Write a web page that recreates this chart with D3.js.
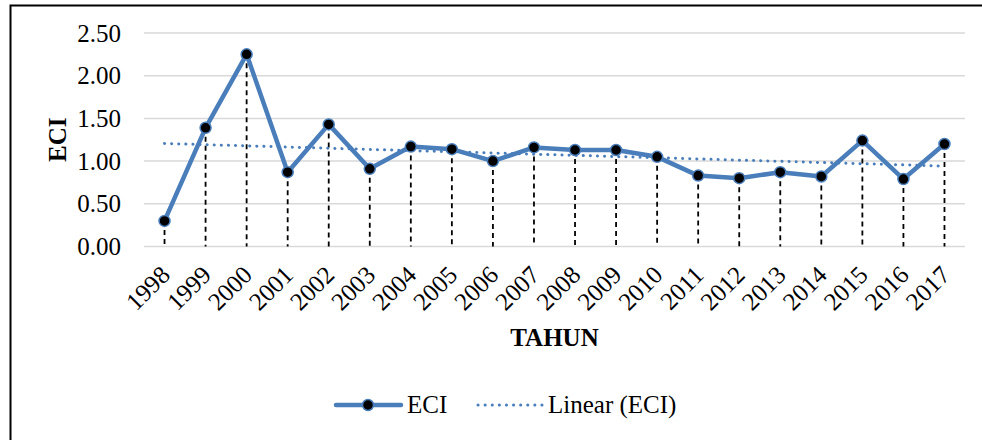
<!DOCTYPE html>
<html>
<head>
<meta charset="utf-8">
<script src="https://cdn.jsdelivr.net/npm/d3@7"></script>
<style>
  html, body { margin: 0; padding: 0; background: #fff; }
  svg { display: block; }
  text { font-family: "Liberation Serif", "Times New Roman", serif; fill: #000; }
</style>
</head>
<body>
<svg id="chart" width="982" height="440"></svg>
<script>
// ---- data ----
const years = ["1998","1999","2000","2001","2002","2003","2004","2005","2006","2007",
               "2008","2009","2010","2011","2012","2013","2014","2015","2016","2017"];
const eci = [0.30, 1.39, 2.25, 0.87, 1.43, 0.91, 1.17, 1.14, 1.00, 1.16,
             1.13, 1.13, 1.05, 0.83, 0.80, 0.87, 0.82, 1.24, 0.79, 1.20];
const yTicks = [0, 0.5, 1.0, 1.5, 2.0, 2.5];
const seriesName = "ECI";
const trendName = "Linear (ECI)";
const xTitle = "TAHUN";
const yTitle = "ECI";

// ---- layout ----
const plot = { left: 144, right: 965, top: 33, bottom: 246.5 };
const blue = "#4A7EBB";
const FS = "25px";
const FONT = "'Liberation Serif', 'Times New Roman', serif";

const svg = d3.select("#chart");

// outer border (extends past right/bottom edges as in reference)
svg.append("rect")
  .attr("x", 10.5).attr("y", 5.5)
  .attr("width", 1000).attr("height", 600)
  .attr("fill", "none").attr("stroke", "#000").attr("stroke-width", 2);

const x = d3.scaleBand().domain(years).range([plot.left, plot.right]);
const y = d3.scaleLinear().domain([0, 2.5]).range([plot.bottom, plot.top]);
const cx = d => x(d) + x.bandwidth() / 2;

// gridlines
svg.append("g")
  .selectAll("line").data(yTicks).join("line")
  .attr("x1", plot.left).attr("x2", plot.right)
  .attr("y1", d => y(d)).attr("y2", d => y(d))
  .attr("stroke", "#d9d9d9").attr("stroke-width", 1.5);

// y axis labels
const yAxis = d3.axisLeft(y).tickValues(yTicks).tickFormat(d3.format(".2f")).tickSize(0).tickPadding(23);
const gy = svg.append("g").attr("transform", `translate(${plot.left},0)`).call(yAxis);
gy.select(".domain").remove();
gy.selectAll("text")
  .style("font-family", FONT)
  .style("font-size", FS).attr("fill", "#000");

// x axis labels (rotated)
const xAxis = d3.axisBottom(x).tickSize(0).tickPadding(0);
const gx = svg.append("g").attr("transform", `translate(0,${plot.bottom})`).call(xAxis);
gx.select(".domain").remove();
gx.selectAll("text")
  .style("font-family", FONT)
  .style("font-size", FS).attr("fill", "#000")
  .attr("text-anchor", "end")
  .attr("dy", null)
  .attr("y", 0)
  .attr("transform", "translate(7,30) rotate(-45)");

// axis titles
svg.append("text")
  .attr("x", (plot.left + plot.right) / 2).attr("y", 346)
  .attr("text-anchor", "middle")
  .style("font-size", FS).style("font-weight", "bold")
  .text(xTitle);
svg.append("text")
  .attr("transform", `translate(66,${(plot.top + plot.bottom) / 2}) rotate(-90)`)
  .attr("text-anchor", "middle")
  .style("font-size", FS).style("font-weight", "bold")
  .text(yTitle);

// drop lines
svg.append("g")
  .selectAll("line").data(years).join("line")
  .attr("x1", d => cx(d)).attr("x2", d => cx(d))
  .attr("y1", (d, i) => y(eci[i]))
  .attr("y2", plot.bottom)
  .attr("stroke", "#000").attr("stroke-width", 1.8)
  .attr("stroke-dasharray", "5,4");

// linear trend (least squares)
const n = eci.length;
const xs = d3.range(1, n + 1);
const mx = d3.mean(xs), my = d3.mean(eci);
const slope = d3.sum(xs.map((v, i) => (v - mx) * (eci[i] - my))) / d3.sum(xs.map(v => (v - mx) ** 2));
const icpt = my - slope * mx;
const trend = xs.map(v => icpt + slope * v);

const line = d3.line().x((d, i) => cx(years[i])).y(d => y(d));

svg.append("path")
  .datum(eci)
  .attr("d", line)
  .attr("fill", "none").attr("stroke", blue).attr("stroke-width", 4.5)
  .attr("stroke-linejoin", "round");

svg.append("path")
  .datum(trend)
  .attr("d", line)
  .attr("fill", "none").attr("stroke", blue).attr("stroke-width", 3)
  .attr("stroke-linecap", "round")
  .attr("stroke-dasharray", "0.1,7");

// markers
svg.append("g")
  .selectAll("circle").data(eci).join("circle")
  .attr("cx", (d, i) => cx(years[i])).attr("cy", d => y(d))
  .attr("r", 5.5)
  .attr("fill", "#000").attr("stroke", blue).attr("stroke-width", 1.5);

// legend
const lg = svg.append("g");
const ly = 405;
lg.append("line").attr("x1", 336).attr("x2", 401).attr("y1", ly).attr("y2", ly)
  .attr("stroke", blue).attr("stroke-width", 4.5).attr("stroke-linecap", "round");
lg.append("circle").attr("cx", 368).attr("cy", ly).attr("r", 5.5)
  .attr("fill", "#000").attr("stroke", blue).attr("stroke-width", 1.5);
lg.append("text").attr("x", 407).attr("y", ly + 8)
  .style("font-size", FS).text(seriesName);
lg.append("line").attr("x1", 478).attr("x2", 542).attr("y1", ly).attr("y2", ly)
  .attr("stroke", blue).attr("stroke-width", 3).attr("stroke-linecap", "round")
  .attr("stroke-dasharray", "0.1,7");
lg.append("text").attr("x", 548).attr("y", ly + 8)
  .style("font-size", FS).text(trendName);
</script>
</body>
</html>
